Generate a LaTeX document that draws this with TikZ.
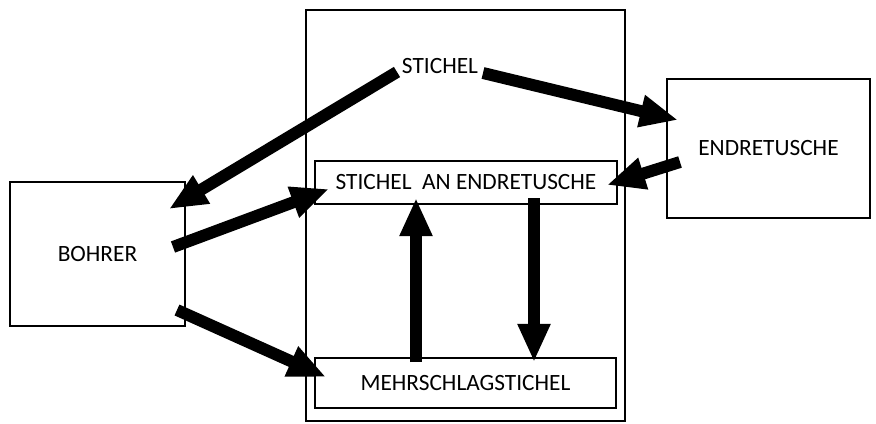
\documentclass[tikz,border=0pt]{standalone}
\usepackage{fontspec}
\setmainfont{Carlito}
\usetikzlibrary{positioning,arrows.meta}

\tikzset{
  boxnode/.style={draw, line width=0.9pt, inner sep=0pt, font=\fontsize{16.6}{19}\selectfont},
  flowarrow/.style={line width=8.5pt, -{Triangle[length=0.95cm, width=0.76cm]}}
}

\begin{document}
\begin{tikzpicture}[x=0.025cm, y=-0.025cm]
\useasboundingbox (0,0) rectangle (876,423);
% boxes
\node[boxnode, minimum width=7.975cm, minimum height=10.275cm] (frame) at (465.5,215.5) {};
\node[boxnode, minimum width=4.375cm, minimum height=3.6cm] (bohrer) at (97.5,254) {BOHRER};
\node[boxnode, minimum width=5.075cm, minimum height=3.475cm] (endretusche) at (768.5,148.5) {ENDRETUSCHE};
\node[boxnode, minimum width=7.55cm, minimum height=1.075cm] (stichelan) at (466,182.5) {STICHEL~ AN ENDRETUSCHE};
\node[boxnode, minimum width=7.525cm, minimum height=1.25cm] (mehr) at (465.5,383) {MEHRSCHLAGSTICHEL};
\node[font=\fontsize{16.6}{19}\selectfont] (stichel) at (440,66) {STICHEL};
% arrow ends
\coordinate (s1) at (397,72);   \coordinate (t1) at (169,209);
\coordinate (s2) at (483,73);   \coordinate (t2) at (678,120);
\coordinate (s3) at (680,162);  \coordinate (t3) at (607,185);
\coordinate (s4) at (173,247);  \coordinate (t4) at (329,189);
\coordinate (s5) at (177,310);  \coordinate (t5) at (326,377);
\coordinate (s6) at (416,362);  \coordinate (t6) at (416,198);
\coordinate (s7) at (534,198);  \coordinate (t7) at (534,362);
% arrows
\foreach \i in {1,...,7}
  \draw[flowarrow] (s\i) -- (t\i);
\end{tikzpicture}
\end{document}
